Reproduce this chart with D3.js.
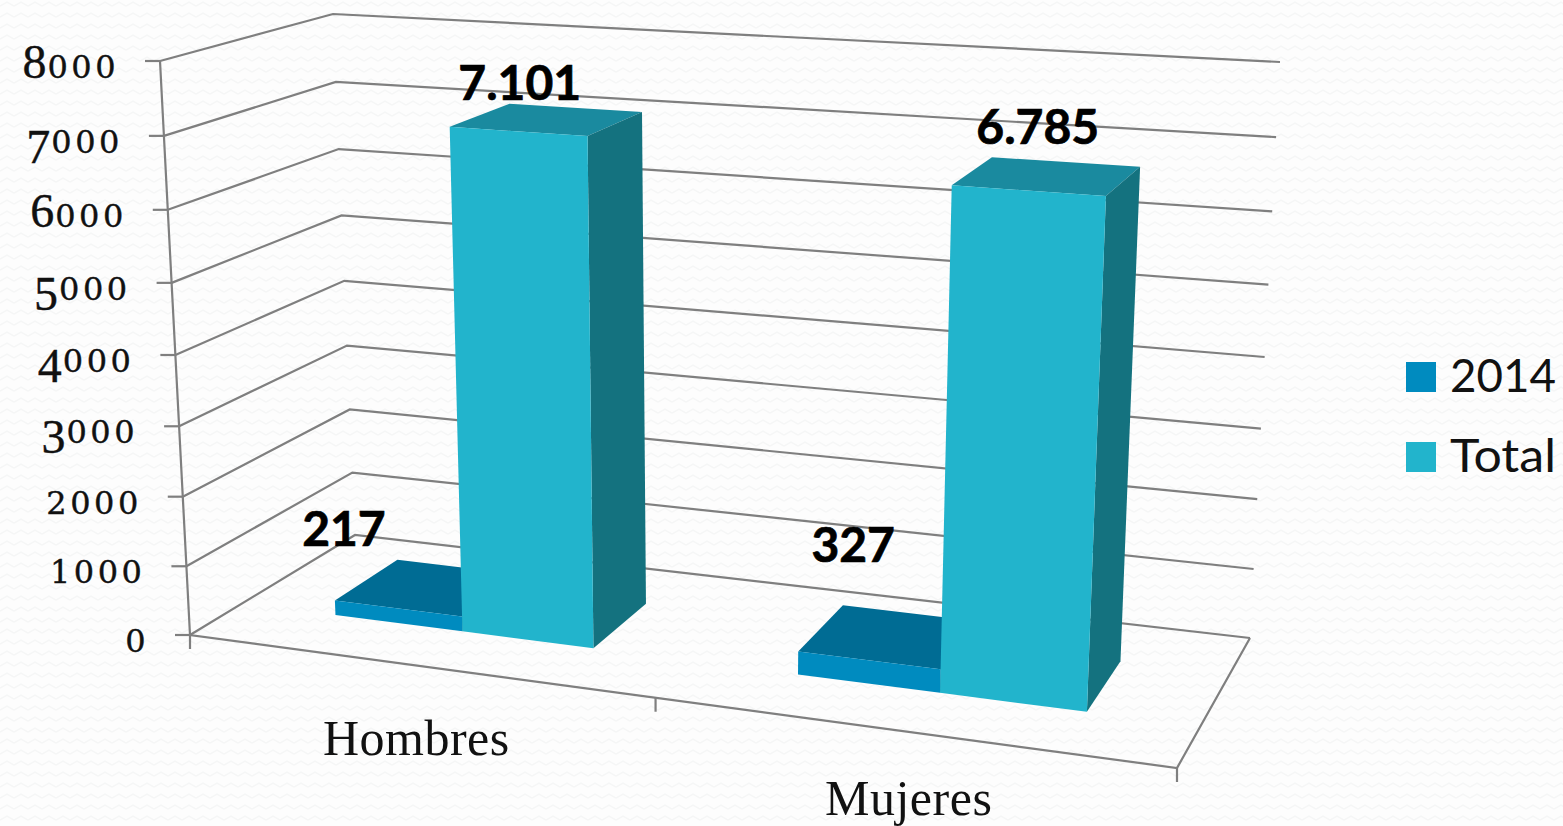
<!DOCTYPE HTML>
<html lang="en">
  <head>
    <meta charset="utf-8">
    <style>
      html, body { margin: 0; padding: 0; background: #fdfdfd; overflow: hidden; }
      svg { display: block; }
      .grid { fill: none; stroke: #7f7f7f; stroke-width: 2.2px; }
      .tick-label { fill: #111; stroke: #111; stroke-width: 0.4px; text-anchor: end; }
      .cat-label { font: 50px "Liberation Serif", serif; letter-spacing: 0.5px; fill: #111; text-anchor: middle; }
      .val-label { font: bold 48px Lato, sans-serif; fill: #000; stroke: #000; stroke-width: 0.7px; text-anchor: middle; }
      .leg-label { font: 46px Lato, sans-serif; fill: #111; }
    </style>
  </head>
  <body>
    <script src="https://d3js.org/d3.v7.min.js"></script>
    <script>
      // data
      var categories = ["Hombres", "Mujeres"];
      var seriesNames = ["2014", "Total"];
      var values2014 = [217, 327];
      var valuesTotal = [7101, 6785];
      var labels2014 = ["217", "327"];
      var labelsTotal = ["7.101", "6.785"];
      var yTicks = [0, 1000, 2000, 3000, 4000, 5000, 6000, 7000, 8000];

      var W = 1563, H = 826;

      var colors = {
        "2014":  {front: "#008bbf", top: "#006c94", side: "#005f82"},
        "Total": {front: "#22b4cc", top: "#1a8a9f", side: "#14727f"}
      };

      // corners of the 3d box on screen
      var floorFL = [190, 635], floorFR = [1177, 768], floorBR = [1250, 638], floorBL = [355, 535];
      var topFL = [160, 61], topFR = [1206, 127], topBR = [1280, 62], topBL = [333, 14];

      var svg = d3.select("body").append("svg")
          .attr("width", W)
          .attr("height", H);

      // faint wavy background
      var pat = svg.append("defs").append("pattern")
          .attr("id", "wave")
          .attr("patternUnits", "userSpaceOnUse")
          .attr("width", 14).attr("height", 11);
      pat.append("path")
          .attr("d", "M0 6 L7 2 L14 6")
          .attr("fill", "none")
          .attr("stroke", "#f5f6f6")
          .attr("stroke-width", 1.5);
      svg.append("rect").attr("width", W).attr("height", H).attr("fill", "url(#wave)");

      // scales, in box units 0..1
      var x0 = d3.scaleBand().domain(categories).range([0, 1]);
      var x1 = d3.scaleBand().domain(seriesNames).range([0, x0.bandwidth()])
          .paddingInner(0).paddingOuter(0.75);
      var z = d3.scaleLinear().domain([0, 1]).range([0.32, 0.72]);
      var y = d3.scaleLinear().domain([0, 8000]).range([0, 1]);

      // foreshortening
      function warp(t, k){ return t / (t + k * (1 - t)); }

      function mix(a, b, t){ return [a[0] + (b[0] - a[0]) * t, a[1] + (b[1] - a[1]) * t]; }

      // u along the category axis, v in depth, value on the y axis
      function project(u, v, value){
          var uw = warp(u, 1.12), w = warp(y(value), 1.05);
          var bottom = mix(mix(floorFL, floorFR, uw), mix(floorBL, floorBR, uw), v);
          var top = mix(mix(topFL, topFR, uw), mix(topBL, topBR, uw), v);
          return mix(bottom, top, w);
      }

      var line = d3.line();
      function poly(pts){ return line(pts) + "Z"; }

      // old style figures: no installed font has them, so set each digit by hand
      function oldStyle(sel, str){
          var prevDrop = 0;
          str.split("").forEach(function(ch){
              var small = "012".indexOf(ch) >= 0,
                  drop = "3457".indexOf(ch) >= 0 ? 10 : 0;
              sel.append("tspan")
                  .attr("dy", drop - prevDrop)
                  .style("font-family", small ? "'DejaVu Serif'" : "'Liberation Serif'")
                  .style("font-size", small ? "32px" : "48px")
                  .style("letter-spacing", small ? "3.5px" : "1px")
                  .text(ch);
              prevDrop = drop;
          });
      }

      // walls and floor
      var grid = svg.append("g");
      yTicks.forEach(function(t){
          var a = project(0, 0, t), b = project(0, 1, t), c = project(1, 1, t);
          grid.append("path").attr("class", "grid").attr("d", line([a, b, c]));
          grid.append("path").attr("class", "grid").attr("d", line([[a[0] - 15, a[1]], a]));
          svg.append("text").attr("class", "tick-label")
              .attr("x", a[0] - 41)
              .attr("y", a[1] + 17)
              .call(oldStyle, String(t));
      });
      grid.append("path").attr("class", "grid")
          .attr("d", line([project(0, 0, 8000), project(0, 0, 0), project(1, 0, 0), project(1, 1, 0)]));
      [0, 0.5, 1].forEach(function(u){
          var p = project(u, 0, 0);
          grid.append("path").attr("class", "grid").attr("d", line([p, [p[0], p[1] + 14]]));
      });

      // bars
      var series = [
        {name: "2014", values: values2014, labels: labels2014, offset: [[9, -54], [55, -89]]},
        {name: "Total", values: valuesTotal, labels: labelsTotal, offset: [[70, -27], [86, -41]]}
      ];
      var catDrop = [89, 83];
      var bars = svg.append("g"), texts = svg.append("g");

      categories.forEach(function(cat, i){
          series.forEach(function(s){
              var c = colors[s.name], val = s.values[i];
              var u0 = x0(cat) + x1(s.name), u1 = u0 + x1.bandwidth();
              var v0 = z(0), v1 = z(1);
              bars.append("path").attr("fill", c.top)
                  .attr("d", poly([project(u0, v0, val), project(u1, v0, val), project(u1, v1, val), project(u0, v1, val)]));
              bars.append("path").attr("fill", c.side)
                  .attr("d", poly([project(u1, v0, 0), project(u1, v1, 0), project(u1, v1, val), project(u1, v0, val)]));
              bars.append("path").attr("fill", c.front)
                  .attr("d", poly([project(u0, v0, 0), project(u1, v0, 0), project(u1, v0, val), project(u0, v0, val)]));
              var corner = project(u0, v0, val);
              texts.append("text").attr("class", "val-label")
                  .attr("x", corner[0] + s.offset[i][0])
                  .attr("y", corner[1] + s.offset[i][1])
                  .text(s.labels[i]);
          });
          var p = project(x0(cat) + x0.bandwidth() / 2, 0, 0);
          svg.append("text").attr("class", "cat-label")
              .attr("x", p[0])
              .attr("y", p[1] + catDrop[i])
              .text(cat);
      });

      // legend
      var legend = svg.append("g").attr("transform", "translate(1406,362)");
      seriesNames.forEach(function(name, i){
          var row = legend.append("g").attr("transform", "translate(0," + (i * 80) + ")");
          row.append("rect").attr("width", 30).attr("height", 30).attr("fill", colors[name].front);
          row.append("text").attr("class", "leg-label")
              .attr("x", 44).attr("y", 30)
              .attr("textLength", 106)
              .attr("lengthAdjust", "spacingAndGlyphs")
              .text(name);
      });
    </script>
  </body>
</html>
